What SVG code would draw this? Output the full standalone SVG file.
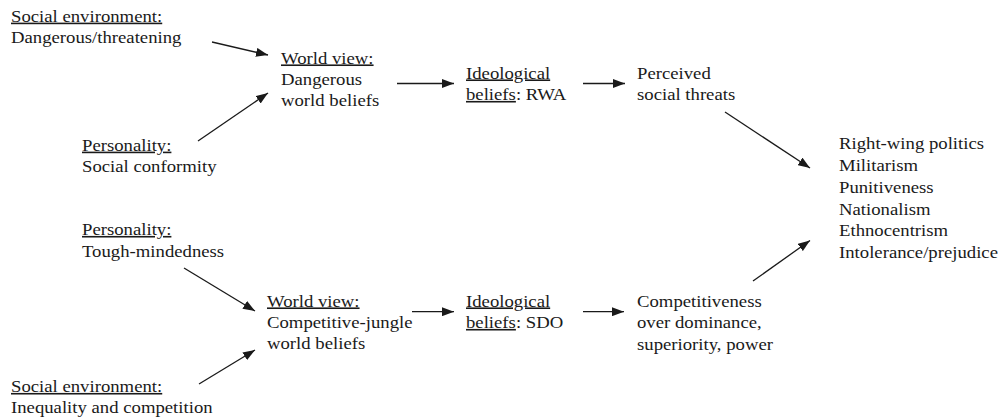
<svg xmlns="http://www.w3.org/2000/svg" width="1000" height="419" viewBox="0 0 1000 419">
<style>
text{font-family:"Liberation Serif","Times New Roman",serif;font-size:16px;fill:#1a1a1a}
.u{text-decoration:underline}
.c{stroke:#1a1a1a;stroke-width:1.3;fill:none}
</style>
<defs>
<marker id="ah" markerUnits="userSpaceOnUse" markerWidth="13" markerHeight="9" refX="12" refY="4.5" orient="auto">
<path d="M0,0 L12,4.5 L0,9 z" fill="#1a1a1a"/>
</marker>
</defs>
<rect width="1000" height="419" fill="#fff"/>
<g id="env-top"><text transform="translate(11,21.7) scale(1.17,1)"><tspan x="0" class="u">Social environment:</tspan><tspan x="0" dy="21.6">Dangerous/threatening</tspan></text></g>
<g id="pers-top"><text transform="translate(82,150.7) scale(1.17,1)"><tspan x="0" class="u">Personality:</tspan><tspan x="0" dy="21">Social conformity</tspan></text></g>
<g id="wv-top"><text transform="translate(281,63.5) scale(1.17,1)"><tspan x="0" class="u">World view:</tspan><tspan x="0" dy="21.5">Dangerous</tspan><tspan x="0" dy="21.5">world beliefs</tspan></text></g>
<g id="ideo-top"><text transform="translate(466,78.5) scale(1.17,1)"><tspan x="0" class="u">Ideological</tspan><tspan x="0" dy="21.5" class="u">beliefs</tspan><tspan>: RWA</tspan></text></g>
<g id="threat"><text transform="translate(637,78.5) scale(1.17,1)"><tspan x="0">Perceived</tspan><tspan x="0" dy="21.5">social threats</tspan></text></g>
<g id="outcomes"><text transform="translate(839,149.3) scale(1.17,1)"><tspan x="0">Right-wing politics</tspan><tspan x="0" dy="21.8">Militarism</tspan><tspan x="0" dy="21.8">Punitiveness</tspan><tspan x="0" dy="21.8">Nationalism</tspan><tspan x="0" dy="21.8">Ethnocentrism</tspan><tspan x="0" dy="21.8">Intolerance/prejudice</tspan></text></g>
<g id="pers-bot"><text transform="translate(82,235) scale(1.17,1)"><tspan x="0" class="u">Personality:</tspan><tspan x="0" dy="21.7">Tough-mindedness</tspan></text></g>
<g id="env-bot"><text transform="translate(11,392) scale(1.17,1)"><tspan x="0" class="u">Social environment:</tspan><tspan x="0" dy="21.5">Inequality and competition</tspan></text></g>
<g id="wv-bot"><text transform="translate(267,306.5) scale(1.17,1)"><tspan x="0" class="u">World view:</tspan><tspan x="0" dy="21.5">Competitive-jungle</tspan><tspan x="0" dy="21.5">world beliefs</tspan></text></g>
<g id="ideo-bot"><text transform="translate(466,306.5) scale(1.17,1)"><tspan x="0" class="u">Ideological</tspan><tspan x="0" dy="21.5" class="u">beliefs</tspan><tspan>: SDO</tspan></text></g>
<g id="compet"><text transform="translate(637,306.5) scale(1.17,1)"><tspan x="0">Competitiveness</tspan><tspan x="0" dy="21.7">over dominance,</tspan><tspan x="0" dy="21.7">superiority, power</tspan></text></g>
<g id="connectors" class="c">
<line x1="212" y1="42" x2="268" y2="55" marker-end="url(#ah)"/>
<line x1="198" y1="141" x2="268" y2="93" marker-end="url(#ah)"/>
<line x1="397" y1="83.5" x2="454" y2="83.5" marker-end="url(#ah)"/>
<line x1="583" y1="83.5" x2="625" y2="83.5" marker-end="url(#ah)"/>
<line x1="725" y1="112" x2="810" y2="168" marker-end="url(#ah)"/>
<line x1="753" y1="281" x2="810" y2="240.5" marker-end="url(#ah)"/>
<line x1="184" y1="268" x2="255" y2="311" marker-end="url(#ah)"/>
<line x1="199" y1="384" x2="255" y2="350" marker-end="url(#ah)"/>
<line x1="412" y1="311.7" x2="454" y2="311.7" marker-end="url(#ah)"/>
<line x1="583" y1="311.7" x2="624" y2="311.7" marker-end="url(#ah)"/>
</g>
</svg>
